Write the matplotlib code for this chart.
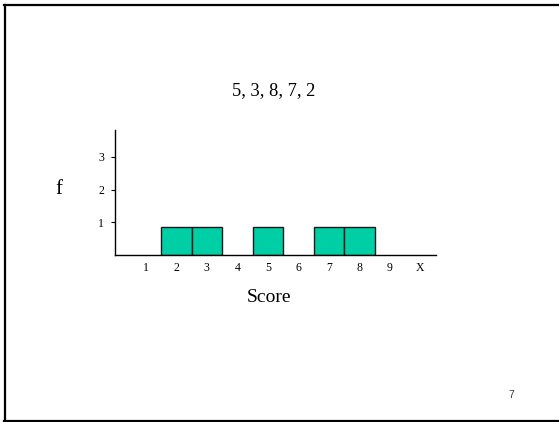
import matplotlib
matplotlib.use("Agg")
import matplotlib.pyplot as plt
from matplotlib.lines import Line2D

# data
scores = [2, 3, 5, 7, 8]
freqs = [0.85, 0.85, 0.85, 0.85, 0.85]
x_ticks = [1, 2, 3, 4, 5, 6, 7, 8, 9, 10]
x_labels = ["1", "2", "3", "4", "5", "6", "7", "8", "9", "X"]
y_ticks = [1, 2, 3]
title = "5, 3, 8, 7, 2"
page_no = "7"

plt.rcParams['font.family'] = ['Liberation Serif', 'DejaVu Serif']

W, H = 559, 422
fig = plt.figure(figsize=(W/100, H/100), dpi=100)

ax = fig.add_axes([115.3/W, (H-255)/H, (435.7-115.3)/W, (255-130)/H])
ax.bar(scores, freqs, width=1.0, color='#00CFA5', edgecolor='#1a1a1a', linewidth=1.0)
ax.set_xlim(0, 10.5)
ax.set_ylim(0, 3.82)
ax.spines['top'].set_visible(False)
ax.spines['right'].set_visible(False)
for s in ['left', 'bottom']:
    ax.spines[s].set_linewidth(1.0)
ax.set_xticks(x_ticks)
ax.set_xticklabels(x_labels, fontsize=8.5)
ax.set_yticks(y_ticks)
ax.set_yticklabels([str(v) for v in y_ticks], fontsize=8.5)
ax.tick_params(axis='x', length=0, pad=5)
ax.tick_params(axis='y', length=3, width=0.8, pad=5)

fig.text(274/W, 1 - 91/H, title, ha='center', va='center', fontsize=13.3)
fig.text(269/W, 1 - 298/H, "Score", ha='center', va='center', fontsize=14)
fig.text(59/W, 1 - 190/H, "f", ha='center', va='center', fontsize=15)
fig.text(511.5/W, 1 - 395/H, page_no, ha='center', va='center', fontsize=7.5,
         fontfamily=['Liberation Sans', 'DejaVu Sans'], color='#333333')

# slide border (left, top, bottom)
fig.add_artist(Line2D([5/W, 5/W], [1 - 4.5/H, 1 - 420.5/H], color='black', lw=1.6, transform=fig.transFigure))
fig.add_artist(Line2D([4/W, 1], [1 - 4.5/H, 1 - 4.5/H], color='black', lw=1.6, transform=fig.transFigure))
fig.add_artist(Line2D([4/W, 1], [1 - 420.5/H, 1 - 420.5/H], color='black', lw=1.6, transform=fig.transFigure))

fig.savefig("out.png", dpi=100)
